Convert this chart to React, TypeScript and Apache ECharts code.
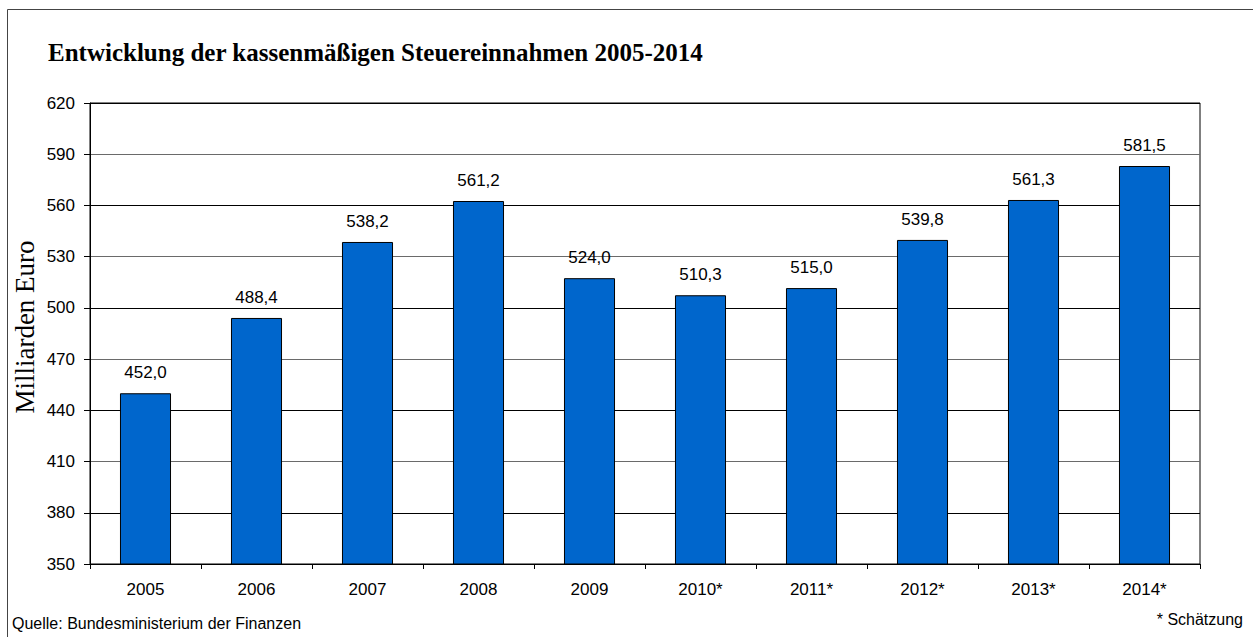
import React, { useEffect, useRef } from "react";
import * as echarts from "echarts";

const years = ["2005", "2006", "2007", "2008", "2009", "2010*", "2011*", "2012*", "2013*", "2014*"];
// bar heights as drawn in the picture (Mrd. Euro)
const barValues = [450.0, 494.1, 538.6, 562.6, 517.4, 507.4, 511.6, 539.8, 563.2, 583.1];
// value labels printed above the bars
const barLabels = ["452,0", "488,4", "538,2", "561,2", "524,0", "510,3", "515,0", "539,8", "561,3", "581,5"];
const yMin = 350;
const yMax = 620;
const yStep = 30;

const title = "Entwicklung der kassenmäßigen Steuereinnahmen 2005-2014";
const yName = "Milliarden Euro";
const source = "Quelle: Bundesministerium der Finanzen";
const note = "* Schätzung";

const sans = "Arial, 'Liberation Sans', sans-serif";
const serif = "'Times New Roman', 'Liberation Serif', serif";

export default function App() {
  const ref = useRef<HTMLDivElement>(null);
  useEffect(() => {
    if (!ref.current) return;
    const chart = echarts.init(ref.current, null, { renderer: "svg" });
    chart.setOption({
      animation: false,
      backgroundColor: "#ffffff",
      grid: {
        left: 90,
        right: 53,
        top: 103,
        bottom: 73,
        show: true,
        borderColor: "#000",
        borderWidth: 1,
        containLabel: false,
      },
      graphic: [
        {
          type: "polyline",
          shape: { points: [[7.5, 640], [7.5, 9.5], [1260, 9.5]] },
          style: { stroke: "#444", lineWidth: 1, fill: null },
          silent: true,
        },
        {
          type: "text",
          left: 48,
          top: 40,
          style: { text: title, font: `bold 25px ${serif}`, fill: "#000" },
        },
        {
          type: "text",
          x: 25,
          y: 327,
          rotation: Math.PI / 2,
          style: {
            text: yName,
            font: `27px ${serif}`,
            fill: "#000",
            align: "center",
            verticalAlign: "middle",
          },
        },
        {
          type: "text",
          left: 12,
          top: 615,
          style: { text: source, font: `16px ${sans}`, fill: "#000" },
        },
        {
          type: "text",
          right: 10,
          top: 611,
          style: { text: note, font: `16px ${sans}`, fill: "#000" },
        },
      ],
      xAxis: {
        type: "category",
        data: years,
        axisLine: { show: true, lineStyle: { color: "#000", width: 1 } },
        axisTick: { show: true, alignWithLabel: false, interval: 0, length: 5, lineStyle: { color: "#000" } },
        axisLabel: { color: "#000", fontSize: 17, fontFamily: sans, margin: 17, interval: 0 },
        splitLine: { show: false },
      },
      yAxis: {
        type: "value",
        min: yMin,
        max: yMax,
        interval: yStep,
        axisLine: { show: true, lineStyle: { color: "#000", width: 1 } },
        axisTick: { show: true, length: 6, lineStyle: { color: "#000" } },
        axisLabel: { color: "#000", fontSize: 17, fontFamily: sans, margin: 15 },
        splitLine: { show: true, lineStyle: { color: ["#6a6a6a", "#000"], width: 1 } },
      },
      series: [
        {
          type: "bar",
          data: barValues,
          barWidth: "46%",
          itemStyle: { color: "#0066CC", borderColor: "#000", borderWidth: 1 },
          label: {
            show: true,
            position: "top",
            distance: 12,
            color: "#000",
            fontSize: 17,
            fontFamily: sans,
            formatter: (p: any) => barLabels[p.dataIndex],
          },
        },
      ],
    });
    return () => chart.dispose();
  }, []);
  return (
    <div
      ref={ref}
      style={{ position: "absolute", left: 0, top: 0, width: 1253, height: 637 }}
    />
  );
}
